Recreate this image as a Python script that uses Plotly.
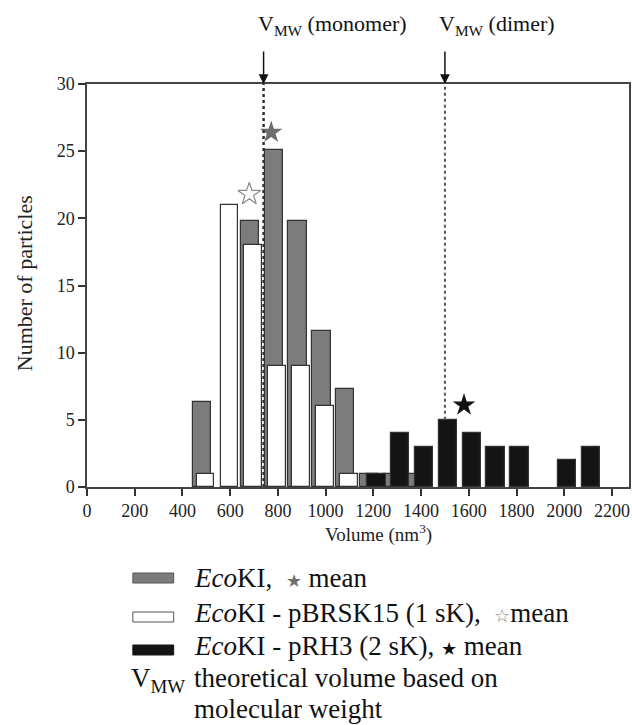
import plotly.graph_objects as go

# ---------------- data ----------------
bins = [500, 600, 700, 800, 900, 1000, 1100, 1200, 1300, 1400, 1500, 1600, 1700, 1800, 1900, 2000, 2100]
ecoki = [6.3, None, 19.8, 25.1, 19.8, 11.6, 7.3, 1, 1, 1, None, None, None, None, None, None, None]
pbrsk15 = [1, 21, 18, 9, 9, 6, 1, None, None, None, None, None, None, None, None, None, None]
prh3 = [None, None, None, None, None, None, None, 1, 4, 3, 5, 4, 3, 3, None, 2, 3]

mean_x = [772, 680, 1580]
mean_y = [26.4, 21.8, 6.1]

v_monomer = 740
v_dimer = 1500
v_dimer_top = 5

x_ticks = list(range(0, 2201, 200))
y_ticks = list(range(0, 31, 5))

# ---------------- layout geometry ----------------
W, H = 632, 725
L, R, T, B = 87, 1, 84, 238
pw, ph = W - L - R, H - T - B
FONT = "Liberation Serif, Times New Roman, serif"
INK = "#222222"


def px(x):
    return (x - L) / pw


def py(y):
    return (H - B - y) / ph


fig = go.Figure()

line_style = dict(color="#333333", width=1.2)
fig.add_trace(go.Bar(x=bins, y=ecoki, width=77, offset=-56,
                     marker=dict(color="#7c7c7c", line=line_style), name="EcoKI"))
fig.add_trace(go.Bar(x=bins, y=pbrsk15, width=74, offset=-40,
                     marker=dict(color="#ffffff", line=line_style), name="EcoKI - pBRSK15"))
fig.add_trace(go.Bar(x=bins, y=prh3, width=77, offset=-26,
                     marker=dict(color="#141414", line=line_style), name="EcoKI - pRH3"))

# means (stars)
fig.add_trace(go.Scatter(x=[mean_x[0]], y=[mean_y[0]], mode="markers",
                         marker=dict(symbol="star", size=17, color="#6e6e6e", line=dict(width=0)),
                         showlegend=False))
fig.add_trace(go.Scatter(x=[mean_x[1]], y=[mean_y[1]], mode="markers",
                         marker=dict(symbol="star-open", size=17, color="#8a8a8a", line=dict(width=1.2)),
                         showlegend=False))
fig.add_trace(go.Scatter(x=[mean_x[2]], y=[mean_y[2]], mode="markers",
                         marker=dict(symbol="star", size=17, color="#111111", line=dict(width=0)),
                         showlegend=False))

shapes = []
# dotted theoretical volume lines
shapes.append(dict(type="line", xref="x", yref="y", x0=v_monomer, x1=v_monomer, y0=0, y1=30,
                   line=dict(color="#333333", width=2.5, dash="dot")))
shapes.append(dict(type="line", xref="x", yref="y", x0=v_dimer, x1=v_dimer, y0=v_dimer_top, y1=30,
                   line=dict(color="#555555", width=2, dash="dot")))

annotations = []
# arrows
for xv in (v_monomer, v_dimer):
    annotations.append(dict(x=xv, y=30, xref="x", yref="y", text="", showarrow=True,
                            ax=0, ay=-34, arrowhead=2, arrowsize=1.3, arrowwidth=1.5,
                            arrowcolor="#111111"))
annotations.append(dict(x=v_monomer, y=py(25), xref="x", yref="paper", xshift=-8,
                        text="V<sub>MW</sub> (monomer)", showarrow=False, xanchor="left",
                        yanchor="middle", font=dict(family=FONT, size=22, color="#111111")))
annotations.append(dict(x=v_dimer, y=py(25), xref="x", yref="paper", xshift=-8,
                        text="V<sub>MW</sub> (dimer)", showarrow=False, xanchor="left",
                        yanchor="middle", font=dict(family=FONT, size=22, color="#111111")))

# axis titles
annotations.append(dict(x=px(380), y=py(533), xref="paper", yref="paper",
                        text="Volume (nm<sup>3</sup>)", showarrow=False, xanchor="center",
                        yanchor="middle", font=dict(family=FONT, size=19, color=INK)))
annotations.append(dict(x=px(24), y=py(283), xref="paper", yref="paper",
                        text="Number of particles", showarrow=False, textangle=-90,
                        xanchor="center", yanchor="middle",
                        font=dict(family=FONT, size=22, color=INK)))

# legend (drawn manually)
patches = [
    (573, 583, "#7c7c7c", "#555555"),
    (612, 622, "#ffffff", "#555555"),
    (645, 655, "#141414", "#141414"),
]
for y0, y1, fill, edge in patches:
    shapes.append(dict(type="rect", xref="paper", yref="paper",
                       x0=px(133), x1=px(174), y0=py(y1), y1=py(y0),
                       fillcolor=fill, line=dict(color=edge, width=1)))

leg_font = dict(family=FONT, size=27, color="#111111")
leg_lines = [
    (578, "<i>Eco</i>KI,  <span style='color:#6e6e6e;font-size:18px'>★</span> mean"),
    (613, "<i>Eco</i>KI - pBRSK15 (1 sK),  <span style='color:#8a8a8a;font-size:18px'>☆</span>mean"),
    (646, "<i>Eco</i>KI - pRH3 (2 sK), <span style='font-size:18px'>★</span> mean"),
    (678, "theoretical volume based on"),
    (709, "molecular weight"),
]
for yv, txt in leg_lines:
    annotations.append(dict(x=px(192), y=py(yv), xref="paper", yref="paper", text=txt,
                            showarrow=False, xanchor="left", yanchor="middle", font=leg_font))
annotations.append(dict(x=px(129), y=py(680), xref="paper", yref="paper",
                        text="V<sub>MW</sub>", showarrow=False, xanchor="left",
                        yanchor="middle", font=leg_font))

axis_common = dict(showline=True, linecolor="#444444", linewidth=1.5, ticks="outside",
                   ticklen=7, tickwidth=1.5, tickcolor="#333333", showgrid=False,
                   zeroline=False, mirror=True,
                   tickfont=dict(family=FONT, size=18, color=INK))

fig.update_layout(
    width=W, height=H,
    margin=dict(l=L, r=R, t=T, b=B),
    paper_bgcolor="white", plot_bgcolor="white",
    barmode="overlay", bargap=0,
    showlegend=False,
    xaxis=dict(range=[0, pw / 0.2395], tickvals=x_ticks, **axis_common),
    yaxis=dict(range=[0, 30], tickvals=y_ticks, **axis_common),
    shapes=shapes,
    annotations=annotations,
)

fig.write_html("out.html", config={"displayModeBar": False},
               post_script="document.body.style.margin='0';document.body.style.overflow='hidden';")
